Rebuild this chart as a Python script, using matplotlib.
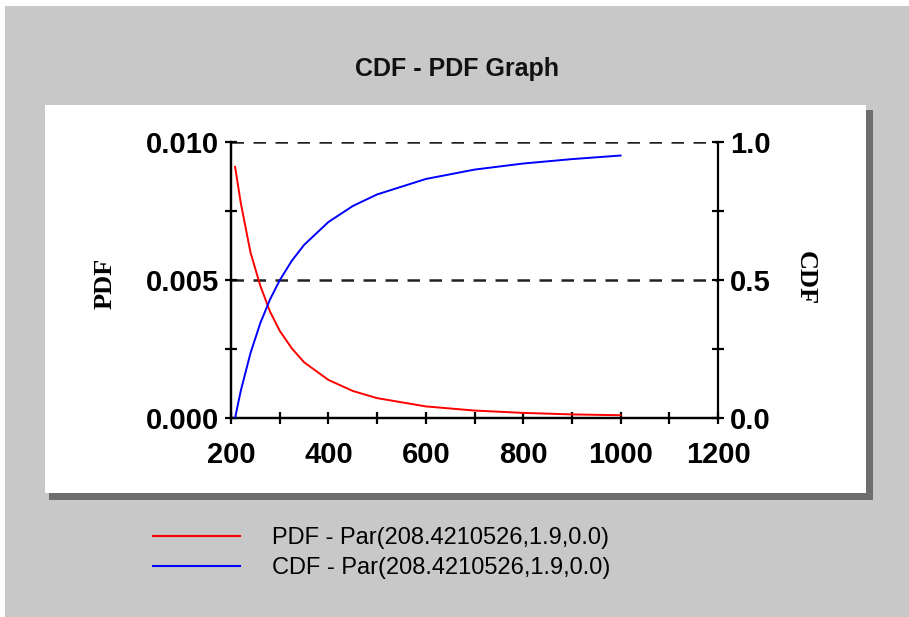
import numpy as np
import matplotlib
matplotlib.use('Agg')
import matplotlib.pyplot as plt
from matplotlib.patches import Rectangle
from matplotlib.lines import Line2D

# values
x_vals = [208.4, 220, 240, 260, 280, 300, 325, 350, 400, 450, 500, 600, 700, 800, 900, 1000]
pdf_vals = [0.0091, 0.0078, 0.0060, 0.0048, 0.00386, 0.00316, 0.00252, 0.00202, 0.00138,
            0.00098, 0.00072, 0.00042, 0.00027, 0.000185, 0.00013, 0.0001]
cdf_vals = [0.0, 0.098, 0.235, 0.343, 0.429, 0.499, 0.570, 0.627, 0.710,
            0.768, 0.810, 0.866, 0.900, 0.922, 0.938, 0.951]
x_ticks = [200, 400, 600, 800, 1000, 1200]
pdf_ticks = [0.0, 0.005, 0.010]
cdf_ticks = [0.0, 0.5, 1.0]
labels = ['PDF - Par(208.4210526,1.9,0.0)', 'CDF - Par(208.4210526,1.9,0.0)']

W, H = 909, 617
GREY = '#c8c8c8'

def fx(px):
    return px / W

def fy(py):
    return 1 - py / H

fig = plt.figure(figsize=(W / 100, H / 100), dpi=100)
fig.patch.set_facecolor('white')

# grey window background
fig.add_artist(Rectangle((fx(5), 0), 1 - fx(5), fy(6), transform=fig.transFigure,
                         facecolor=GREY, edgecolor='none', zorder=0))
# shadow of panel
fig.add_artist(Rectangle((fx(49), fy(500)), fx(873) - fx(49), fy(110) - fy(500),
                         transform=fig.transFigure, facecolor='#6e6e6e',
                         edgecolor='none', lw=0, zorder=0.5))
# white panel
fig.add_artist(Rectangle((fx(45), fy(493)), fx(866) - fx(45), fy(105) - fy(493),
                         transform=fig.transFigure, facecolor='white',
                         edgecolor='none', zorder=0.6))

fig.text(fx(457), fy(69), 'CDF - PDF Graph', ha='center', va='center',
         fontsize=18, weight='bold', family='Liberation Sans', color='#111111')

ax = fig.add_axes([fx(231), fy(418), fx(718) - fx(231), fy(142) - fy(418)])
ax.set_zorder(2)
ax.patch.set_alpha(0)
ax2 = ax.twinx()

ax.plot(x_vals, pdf_vals, color='#ff0000', lw=1.4, zorder=3)
ax2.plot(x_vals, cdf_vals, color='#0000ff', lw=1.4, zorder=3)

ax.set_xlim(200, 1200)
ax.set_ylim(0, 0.010)
ax2.set_ylim(0, 1.0)

for yv in [0.005, 0.010]:
    ax.axhline(yv, color='#222222', lw=1.8, linestyle=(0, (5, 3.8)), zorder=1)

tickfont = dict(family='Liberation Sans', weight='bold', size=21)
ax.set_xticks(np.arange(200, 1201, 100), minor=True)
ax.set_xticks(x_ticks)
ax.set_xticklabels([str(v) for v in x_ticks], **tickfont)
ax.set_yticks(np.arange(0, 0.0101, 0.0025), minor=True)
ax.set_yticks(pdf_ticks)
ax.set_yticklabels(['%.3f' % v for v in pdf_ticks], **tickfont)
ax2.set_yticks(np.arange(0, 1.01, 0.25), minor=True)
ax2.set_yticks(cdf_ticks)
ax2.set_yticklabels(['%.1f' % v for v in cdf_ticks], **tickfont)

for a in (ax, ax2):
    a.tick_params(which='both', direction='inout', length=9, width=1.6, color='black')
    for s in a.spines.values():
        s.set_linewidth(1.6)
    a.spines['top'].set_visible(False)
ax.tick_params(axis='y', pad=4)
ax.tick_params(axis='x', pad=12)
ax2.tick_params(axis='y', pad=4)
ax.spines['right'].set_visible(False)

labfont = dict(family='Liberation Serif', weight='bold', size=19)
fig.text(fx(105), fy(283), 'PDF', rotation=90, ha='center', va='center', **labfont)
fig.text(fx(805), fy(278), 'CDF', rotation=-90, ha='center', va='center', **labfont)

handles = [Line2D([], [], color='#ff0000', lw=1.5), Line2D([], [], color='#0000ff', lw=1.5)]
fig.legend(handles, labels, loc='center left', bbox_to_anchor=(fx(153), fy(553)),
           frameon=False, borderpad=0, borderaxespad=0, handlelength=3.7,
           handletextpad=1.35, labelspacing=0.35,
           prop=dict(family='Liberation Sans', size=17))

fig.savefig('out.png', dpi=100, facecolor=fig.get_facecolor())
